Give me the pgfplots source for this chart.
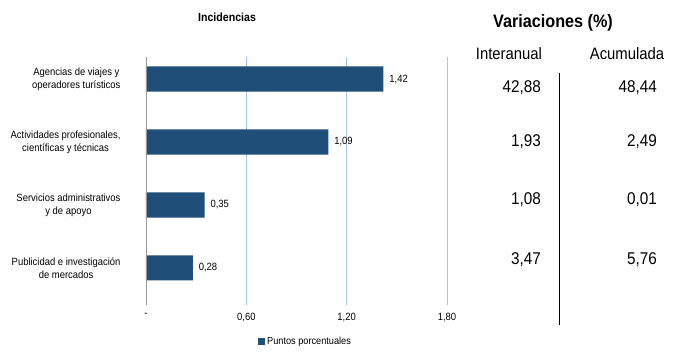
\documentclass[border=0pt]{standalone}
\usepackage{pgfplots}
\pgfplotsset{compat=1.18}
\usepackage{fontspec}
\setmainfont{Liberation Sans}[FakeStretch=0.9]
\definecolor{barc}{RGB}{31,78,121}
\definecolor{gridc}{RGB}{165,198,232}
\begin{document}
\begin{tikzpicture}
\useasboundingbox (0pt,0pt) rectangle (678pt,-352pt);
\begin{axis}[
  at={(146pt,-300pt)}, anchor=south west,
  scale only axis, width=301pt, height=243pt,
  xbar, bar width=0.4,
  xmin=0, xmax=1.8, ymin=0.49, ymax=4.35,
  axis line style={draw=none},
  xtick={0,0.6,1.2,1.8}, xticklabels={-,{0,60},{1,20},{1,80}},
  xmajorgrids, grid style={gridc, line width=0.8pt},
  xtick pos=bottom, xtick align=outside, major tick length=5pt,
  xtick style={gridc, line width=0.8pt},
  xticklabel style={font=\fontsize{10.5}{12}\selectfont, yshift=-5pt},
  ytick={1,2,3,4},
  yticklabels={{Publicidad e investigación\\de mercados},{Servicios administrativos\\y de apoyo},{Actividades profesionales,\\científicas y técnicas},{Agencias de viajes y\\operadores turísticos}},
  ytick pos=left, ytick style={draw=none},
  yticklabel style={align=center, font=\fontsize{10.5}{13}\selectfont, xshift=-17pt},
  point meta=x,
  nodes near coords={\pgfmathprintnumber[fixed,fixed zerofill,precision=2,use comma,assume math mode=true]{\pgfplotspointmeta}},
  nodes near coords style={anchor=west, font=\fontsize{10.5}{12}\selectfont, xshift=2.5pt},
  legend style={at={(axis description cs:0.53,-0.169)}, anchor=center, draw=none, font=\fontsize{10.2}{12}\selectfont},
  legend image code/.code={\fill[barc] (0pt,-3.5pt) rectangle (7pt,3.5pt);},
]
\addplot[fill=barc, draw=none] coordinates {(0.28,1) (0.35,2) (1.09,3) (1.42,4)};
\legend{Puntos porcentuales}
\end{axis}
\draw[gray!80, line width=0.8pt] (146pt,-57pt) -- (146pt,-305pt);
\node[font=\bfseries\fontsize{11.8}{14}\selectfont, anchor=base] at (227pt,-22pt) {Incidencias};
\node[font=\bfseries\fontsize{18}{22}\selectfont, anchor=base] at (553pt,-28pt) {Variaciones (\%)};
\node[font=\fontsize{16.5}{20}\selectfont, anchor=base] at (509pt,-60pt) {Interanual};
\node[font=\fontsize{16.5}{20}\selectfont, anchor=base] at (627pt,-60pt) {Acumulada};
\begin{scope}[every node/.style={font=\fontsize{17}{20}\selectfont, anchor=base east, inner sep=0pt}]
\node at (541pt,-93pt) {42,88};
\node at (541pt,-147pt) {1,93};
\node at (541pt,-205pt) {1,08};
\node at (541pt,-265pt) {3,47};
\node at (657pt,-93pt) {48,44};
\node at (657pt,-147pt) {2,49};
\node at (657pt,-205pt) {0,01};
\node at (657pt,-265pt) {5,76};
\end{scope}
\draw[black, line width=0.8pt] (559pt,-73pt) -- (559pt,-325pt);
\end{tikzpicture}
\end{document}
